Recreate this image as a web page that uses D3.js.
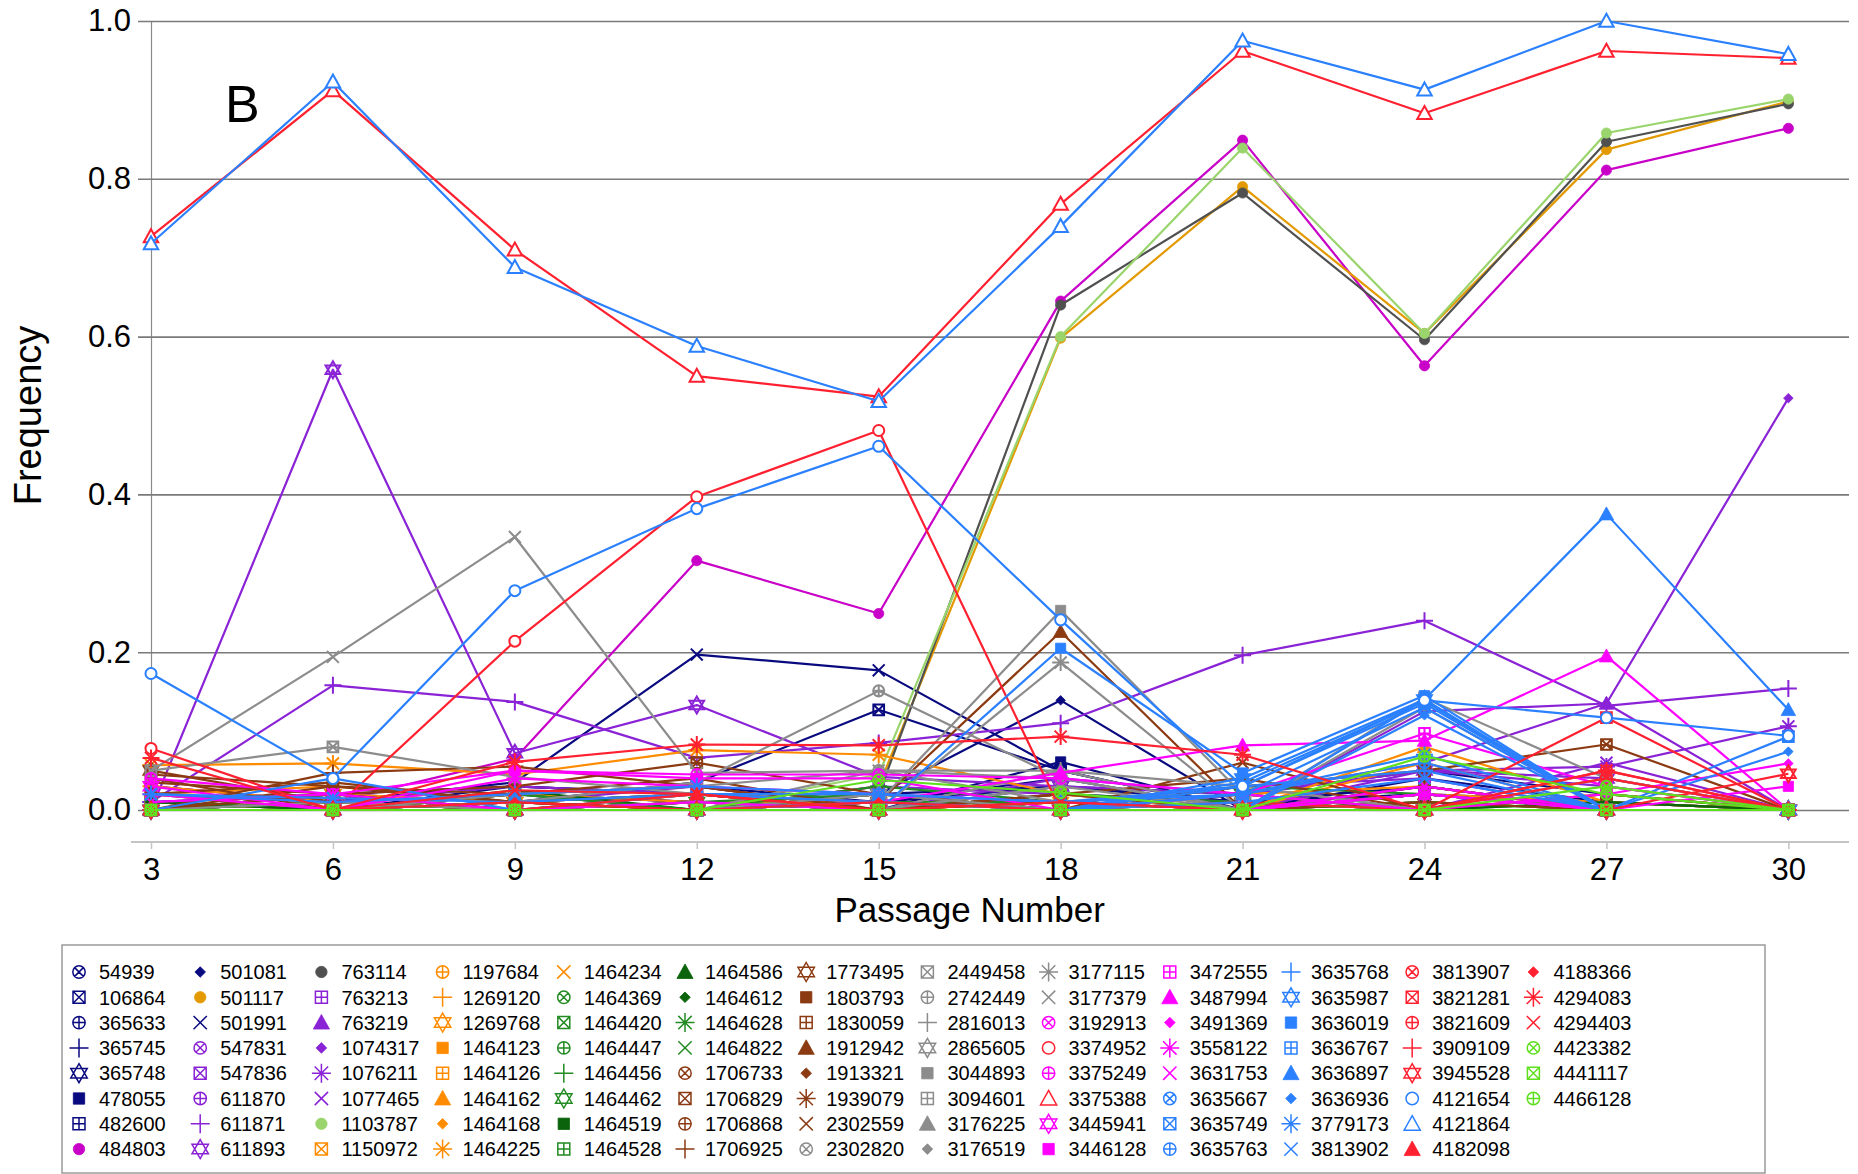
<!DOCTYPE html>
<html><head><meta charset="utf-8">
<script src="https://cdn.jsdelivr.net/npm/d3@7"></script>
<style>body{margin:0;background:#fff}svg{display:block}</style>
</head><body><svg id="c" width="1858" height="1174"></svg>
<script>
const passages = [3,6,9,12,15,18,21,24,27,30];
const yTicks = [0,0.2,0.4,0.6,0.8,1.0];
const xTitle = "Passage Number", yTitle = "Frequency", panelLabel = "B";

const seriesNames = [
"54939","106864","365633","365745","365748","478055","482600","484803",
"501081","501117","501991","547831","547836","611870","611871","611893",
"763114","763213","763219","1074317","1076211","1077465","1103787","1150972",
"1197684","1269120","1269768","1464123","1464126","1464162","1464168","1464225",
"1464234","1464369","1464420","1464447","1464456","1464462","1464519","1464528",
"1464586","1464612","1464628","1464822","1706733","1706829","1706868","1706925",
"1773495","1803793","1830059","1912942","1913321","1939079","2302559","2302820",
"2449458","2742449","2816013","2865605","3044893","3094601","3176225","3176519",
"3177115","3177379","3192913","3374952","3375249","3375388","3445941","3446128",
"3472555","3487994","3491369","3558122","3631753","3635667","3635749","3635763",
"3635768","3635987","3636019","3636767","3636897","3636936","3779173","3813902",
"3813907","3821281","3821609","3909109","3945528","4121654","4121864","4182098",
"4188366","4294083","4294403","4423382","4441117","4466128"];

const seriesColorKeys = [
"navy","navy","navy","navy","navy","navy","navy","mag2",
"navy","gold","navy","purple","purple","purple","purple","purple",
"dkgrey","purple","purple","purple","purple","purple","ltgreen","orange",
"orange","orange","orange","orange","orange","orange","orange","orange",
"orange","green","green","green","green","green","dkgreen","green",
"dkgreen","dkgreen","green","green","brown","brown","brown","brown",
"brown","brown","brown","brown","brown","brown","brown","grey",
"grey","grey","grey","grey","grey","grey","grey","grey",
"grey","grey","magenta","red","magenta","red","magenta","magenta",
"magenta","magenta","magenta","magenta","magenta","blue","blue","blue",
"blue","blue","blue","blue","blue","blue","blue","blue",
"red","red","red","red","red","blue","blue","red",
"red","red","red","bgreen","bgreen","bgreen"];

const seriesShapes = [
"cx","sx","cp","p","hex","sq","sp","dot",
"dia","dot","x","cx","sx","cp","p","hex",
"dot","sp","tri","dia","ast","x","dot","sx",
"cp","p","hex","sq","sp","tri","dia","ast",
"x","cx","sx","cp","p","hex","sq","sp",
"tri","dia","ast","x","cx","sx","cp","p",
"hex","sq","sp","tri","dia","ast","x","cx",
"sx","cp","p","hex","sq","sp","tri","dia",
"ast","x","cx","oc","cp","ot","hex","sq",
"sp","tri","dia","ast","x","cx","sx","cp",
"p","hex","sq","sp","tri","dia","ast","x",
"cx","sx","cp","p","hex","oc","ot","tri",
"dia","ast","x","cx","sx","cp"];

const seriesValues = [
[0.03,0.01,0.02,0.03,0.01,0.03,0.02,0.05,0.02,0.0],
[0.02,0.0,0.01,0.035,0.127,0.05,0.0,0.04,0.01,0.0],
[0.0,0.01,0.02,0.01,0.0,0.02,0.01,0.03,0.0,0.0],
[0.01,0.0,0.03,0.02,0.01,0.04,0.0,0.02,0.01,0.0],
[0.0,0.02,0.01,0.0,0.02,0.03,0.01,0.0,0.0,0.0],
[0.02,0.01,0.02,0.01,0.0,0.061,0.0,0.01,0.0,0.0],
[0.0,0.0,0.01,0.02,0.0,0.03,0.01,0.02,0.0,0.0],
[0.03,0.01,0.065,0.316,0.249,0.645,0.849,0.563,0.811,0.864],
[0.01,0.02,0.03,0.02,0.02,0.139,0.0,0.03,0.0,0.0],
[0.0,0.0,0.0,0.0,0.03,0.598,0.790,0.604,0.837,0.898],
[0.0,0.01,0.035,0.197,0.177,0.05,0.0,0.02,0.0,0.0],
[0.0,0.02,0.01,0.03,0.0,0.04,0.02,0.05,0.03,0.0],
[0.01,0.0,0.02,0.0,0.03,0.02,0.0,0.03,0.0,0.0],
[0.0,0.01,0.03,0.02,0.01,0.0,0.03,0.04,0.0,0.0],
[0.01,0.158,0.137,0.066,0.085,0.110,0.196,0.240,0.132,0.154],
[0.0,0.558,0.072,0.133,0.042,0.03,0.02,0.05,0.04,0.0],
[0.0,0.0,0.0,0.0,0.02,0.640,0.782,0.596,0.847,0.895],
[0.0,0.0,0.01,0.02,0.0,0.02,0.01,0.0,0.0,0.0],
[0.0,0.01,0.0,0.01,0.0,0.0,0.02,0.06,0.135,0.0],
[0.0,0.0,0.01,0.0,0.0,0.01,0.0,0.125,0.135,0.522],
[0.0,0.0,0.0,0.01,0.0,0.0,0.0,0.05,0.055,0.106],
[0.01,0.02,0.0,0.0,0.02,0.0,0.0,0.0,0.06,0.0],
[0.0,0.0,0.0,0.0,0.045,0.600,0.839,0.604,0.858,0.901],
[0.02,0.03,0.01,0.02,0.0,0.01,0.0,0.0,0.0,0.0],
[0.01,0.0,0.02,0.01,0.01,0.0,0.02,0.03,0.0,0.0],
[0.03,0.01,0.0,0.0,0.02,0.0,0.0,0.02,0.01,0.0],
[0.0,0.02,0.01,0.0,0.0,0.01,0.0,0.0,0.0,0.0],
[0.0,0.0,0.0,0.01,0.0,0.0,0.01,0.0,0.0,0.0],
[0.02,0.0,0.01,0.0,0.0,0.02,0.0,0.06,0.0,0.0],
[0.0,0.01,0.0,0.0,0.01,0.0,0.0,0.08,0.01,0.0],
[0.01,0.0,0.0,0.02,0.0,0.0,0.02,0.0,0.0,0.0],
[0.057,0.059,0.045,0.076,0.070,0.02,0.0,0.01,0.0,0.0],
[0.0,0.01,0.0,0.0,0.0,0.01,0.0,0.0,0.02,0.0],
[0.0,0.01,0.0,0.01,0.02,0.0,0.03,0.02,0.0,0.0],
[0.01,0.0,0.02,0.0,0.01,0.01,0.0,0.01,0.0,0.0],
[0.0,0.0,0.01,0.02,0.0,0.02,0.01,0.0,0.01,0.0],
[0.0,0.01,0.0,0.0,0.01,0.0,0.0,0.02,0.0,0.0],
[0.0,0.0,0.0,0.01,0.0,0.0,0.02,0.0,0.0,0.0],
[0.01,0.0,0.025,0.0,0.0,0.01,0.0,0.0,0.0,0.0],
[0.0,0.01,0.0,0.0,0.02,0.0,0.0,0.01,0.0,0.0],
[0.0,0.0,0.01,0.0,0.0,0.0,0.01,0.0,0.0,0.0],
[0.0,0.02,0.0,0.01,0.0,0.0,0.0,0.0,0.01,0.0],
[0.0,0.0,0.0,0.0,0.03,0.01,0.0,0.02,0.0,0.0],
[0.0,0.0,0.02,0.0,0.0,0.0,0.01,0.0,0.0,0.0],
[0.045,0.03,0.02,0.04,0.0,0.01,0.0,0.0,0.0,0.0],
[0.0,0.02,0.03,0.06,0.02,0.0,0.03,0.05,0.083,0.0],
[0.02,0.035,0.01,0.0,0.0,0.02,0.0,0.03,0.0,0.0],
[0.0,0.047,0.055,0.03,0.0,0.0,0.0,0.01,0.0,0.0],
[0.05,0.01,0.0,0.0,0.01,0.0,0.0,0.0,0.0,0.0],
[0.0,0.0,0.02,0.03,0.0,0.02,0.04,0.0,0.0,0.0],
[0.035,0.02,0.0,0.01,0.0,0.0,0.0,0.0,0.02,0.0],
[0.0,0.0,0.0,0.0,0.01,0.226,0.0,0.02,0.0,0.0],
[0.0,0.03,0.01,0.0,0.0,0.0,0.02,0.0,0.0,0.0],
[0.0,0.0,0.0,0.02,0.0,0.0,0.0,0.0,0.0,0.0],
[0.04,0.0,0.0,0.0,0.0,0.0,0.06,0.0,0.0,0.0],
[0.0,0.0,0.02,0.03,0.05,0.01,0.03,0.0,0.04,0.0],
[0.05,0.080,0.042,0.02,0.01,0.0,0.0,0.0,0.0,0.0],
[0.0,0.0,0.01,0.035,0.151,0.04,0.0,0.02,0.0,0.0],
[0.0,0.01,0.0,0.01,0.0,0.05,0.0,0.0,0.0,0.0],
[0.0,0.0,0.0,0.0,0.02,0.0,0.01,0.0,0.0,0.0],
[0.0,0.0,0.0,0.0,0.01,0.253,0.02,0.0,0.0,0.0],
[0.0,0.0,0.0,0.0,0.0,0.0,0.0,0.142,0.04,0.0],
[0.0,0.0,0.0,0.0,0.05,0.05,0.03,0.0,0.0,0.0],
[0.0,0.0,0.0,0.0,0.0,0.03,0.0,0.13,0.0,0.0],
[0.0,0.0,0.0,0.0,0.0,0.187,0.0,0.0,0.0,0.0],
[0.05,0.194,0.346,0.047,0.05,0.04,0.0,0.0,0.0,0.0],
[0.0,0.0,0.0,0.01,0.0,0.0,0.0,0.02,0.0,0.0],
[0.078,0.0,0.214,0.397,0.481,0.0,0.01,0.0,0.0,0.0],
[0.04,0.02,0.05,0.045,0.045,0.04,0.02,0.0,0.0,0.0],
[0.727,0.912,0.710,0.550,0.524,0.768,0.962,0.883,0.962,0.953],
[0.03,0.0,0.0,0.0,0.0,0.0,0.0,0.0,0.0,0.0],
[0.0,0.0,0.05,0.04,0.04,0.0,0.0,0.0,0.0,0.03],
[0.0,0.0,0.0,0.0,0.0,0.0,0.02,0.097,0.03,0.0],
[0.0,0.0,0.0,0.0,0.01,0.047,0.082,0.088,0.195,0.0],
[0.0,0.0,0.0,0.0,0.0,0.0,0.0,0.0,0.02,0.059],
[0.02,0.0,0.04,0.03,0.02,0.01,0.0,0.02,0.0,0.0],
[0.01,0.02,0.0,0.0,0.0,0.0,0.0,0.03,0.0,0.0],
[0.0,0.0,0.0,0.02,0.02,0.01,0.03,0.135,0.0,0.0],
[0.0,0.0,0.0,0.0,0.01,0.0,0.02,0.13,0.0,0.093],
[0.0,0.04,0.0,0.0,0.0,0.0,0.02,0.06,0.0,0.0],
[0.0,0.0,0.0,0.0,0.0,0.0,0.03,0.05,0.0,0.0],
[0.0,0.0,0.0,0.0,0.0,0.0,0.04,0.14,0.0,0.0],
[0.0,0.0,0.0,0.0,0.0,0.205,0.047,0.145,0.0,0.0],
[0.0,0.0,0.0,0.0,0.0,0.0,0.035,0.138,0.0,0.0],
[0.0,0.0,0.0,0.0,0.0,0.0,0.0,0.14,0.375,0.127],
[0.0,0.0,0.0,0.0,0.0,0.0,0.0,0.12,0.0,0.074],
[0.02,0.01,0.02,0.03,0.02,0.01,0.02,0.07,0.0,0.0],
[0.02,0.015,0.01,0.02,0.01,0.0,0.01,0.04,0.0,0.0],
[0.0,0.0,0.0,0.0,0.0,0.0,0.0,0.0,0.04,0.0],
[0.0,0.0,0.0,0.0,0.0,0.0,0.0,0.0,0.117,0.0],
[0.0,0.0,0.0,0.0,0.0,0.0,0.0,0.0,0.05,0.0],
[0.0,0.0,0.0,0.0,0.0,0.0,0.0,0.0,0.0,0.0],
[0.0,0.0,0.0,0.0,0.0,0.0,0.0,0.0,0.0,0.046],
[0.173,0.040,0.278,0.382,0.461,0.241,0.03,0.139,0.117,0.094],
[0.718,0.923,0.688,0.588,0.518,0.740,0.975,0.913,1.0,0.958],
[0.0,0.0,0.0,0.02,0.0,0.0,0.0,0.0,0.0,0.0],
[0.0,0.0,0.01,0.0,0.01,0.0,0.0,0.0,0.0,0.0],
[0.066,0.0,0.061,0.083,0.082,0.093,0.070,0.0,0.05,0.0],
[0.0,0.0,0.025,0.02,0.0,0.01,0.0,0.0,0.0,0.0],
[0.0,0.0,0.0,0.0,0.038,0.022,0.0,0.0,0.03,0.0],
[0.0,0.0,0.0,0.0,0.0,0.0,0.0,0.0,0.0,0.0],
[0.0,0.0,0.0,0.0,0.0,0.0,0.0,0.068,0.02,0.0]];

const palette = {
  navy:"#0a0a80", mag2:"#c800c8", gold:"#e39a00", purple:"#8a22d6", dkgrey:"#505050",
  ltgreen:"#9ad46c", orange:"#ff8c00", green:"#228b22", dkgreen:"#0b640b", brown:"#8b3a12",
  grey:"#8c8c8c", magenta:"#ff00ff", red:"#ff2030", blue:"#2a80ff", bgreen:"#5fe01f"
};

const svg = d3.select("#c");
const FONT = "'Liberation Sans', Arial, sans-serif";
const x = d3.scaleLinear().domain([3,31]).range([151,1849]);
const y = d3.scaleLinear().domain([0,1]).range([810,21]);

// gridlines + y axis
const yAxis = d3.axisLeft(y).tickValues(yTicks).tickFormat(d3.format(".1f"))
  .tickSizeInner(-(x.range()[1]-x.range()[0])).tickSizeOuter(0).tickPadding(20);
const gy = svg.append("g").attr("transform",`translate(${x(3)},0)`).call(yAxis);
gy.select(".domain").attr("stroke","#8a8a8a").attr("stroke-width",1.2);
gy.selectAll(".tick line").attr("x1",-13).attr("stroke","#7a7a7a").attr("stroke-width",1.6);
gy.selectAll(".tick text").attr("font-family",FONT).attr("font-size",31).attr("fill","#000");

// x axis
const xAxis = d3.axisBottom(x).tickValues(passages).tickSizeInner(7).tickSizeOuter(0).tickPadding(9);
const gx = svg.append("g").attr("transform","translate(0,842)").call(xAxis);
gx.select(".domain").remove();
gx.insert("line",":first-child").attr("x1",x(3)-20).attr("x2",x.range()[1]).attr("y1",0).attr("y2",0)
  .attr("stroke","#c4c4c4").attr("stroke-width",2);
gx.selectAll(".tick line").attr("stroke","#c4c4c4").attr("stroke-width",1.5);
gx.selectAll(".tick text").attr("font-family",FONT).attr("font-size",31).attr("fill","#000");

svg.append("text").attr("x",x(16.5)).attr("y",922).attr("text-anchor","middle")
  .attr("font-family",FONT).attr("font-size",35).text(xTitle);
svg.append("text").attr("transform",`translate(41,${y(0.5)}) rotate(-90)`).attr("text-anchor","middle")
  .attr("font-family",FONT).attr("font-size",38).text(yTitle);
svg.append("text").attr("x",225).attr("y",122).attr("font-family",FONT).attr("font-size",52).text(panelLabel);

// symbols
function circ(r){return `M${-r},0A${r},${r} 0 1,0 ${r},0A${r},${r} 0 1,0 ${-r},0Z`;}
const filled = new Set(["sq","dot","tri","dia"]);
function shapePath(s,k){
  const r=6.5*k, a=r*0.707, q=6.3*k, P=10*k, R=10*k, t=8.5*k, d=5.6*k, A=10*k, X=7*k, b=A*0.707;
  switch(s){
    case "cx": return circ(r)+`M${-a},${-a}L${a},${a}M${-a},${a}L${a},${-a}`;
    case "sx": return `M${-q},${-q}H${q}V${q}H${-q}ZM${-q},${-q}L${q},${q}M${-q},${q}L${q},${-q}`;
    case "cp": return circ(r)+`M${-r},0H${r}M0,${-r}V${r}`;
    case "p": return `M${-P},0H${P}M0,${-P}V${P}`;
    case "hex": {const h=R*0.866; return `M0,${-R}L${h},${R/2}L${-h},${R/2}ZM0,${R}L${h},${-R/2}L${-h},${-R/2}Z`;}
    case "sq": {const u=q*0.95; return `M${-u},${-u}H${u}V${u}H${-u}Z`;}
    case "sp": return `M${-q},${-q}H${q}V${q}H${-q}ZM${-q},0H${q}M0,${-q}V${q}`;
    case "dot": return circ(6*k);
    case "tri": return `M0,${-t}L${t},${t*0.8}L${-t},${t*0.8}Z`;
    case "dia": return `M0,${-d}L${d},0L0,${d}L${-d},0Z`;
    case "ast": return `M${-A},0H${A}M0,${-A}V${A}M${-b},${-b}L${b},${b}M${-b},${b}L${b},${-b}`;
    case "x": return `M${-X},${-X}L${X},${X}M${-X},${X}L${X},${-X}`;
    case "oc": return circ(r);
    case "ot": return `M0,${-t}L${t},${t*0.8}L${-t},${t*0.8}Z`;
  }
}
function drawSymbol(g,s,color,k,sw,bg){
  const isF = filled.has(s);
  g.append("path").attr("d",shapePath(s,k))
    .attr("fill", isF ? color : ((s==="oc"||s==="ot") ? bg : "none"))
    .attr("stroke", color).attr("stroke-width", isF ? 0.8 : sw)
    .attr("stroke-linejoin","miter");
}

const line = d3.line().x((d,i)=>x(passages[i])).y(d=>y(d));
const plot = svg.append("g");
seriesValues.forEach((vals,si)=>{
  const col = palette[seriesColorKeys[si]];
  const g = plot.append("g");
  g.append("path").attr("d",line(vals)).attr("fill","none").attr("stroke",col)
    .attr("stroke-width",2.2).attr("stroke-linejoin","round");
  vals.forEach((v,i)=>{
    const mg = g.append("g").attr("transform",`translate(${x(passages[i])},${y(v)})`);
    drawSymbol(mg, seriesShapes[si], col, 0.85, 2, "#fff");
  });
});

// legend
const lg = svg.append("g");
lg.append("rect").attr("x",62).attr("y",945).attr("width",1703).attr("height",228)
  .attr("fill","#fff").attr("stroke","#9a9a9a").attr("stroke-width",1.5);
seriesNames.forEach((name,si)=>{
  const c = Math.floor(si/8), r = si%8;
  const cx = 79 + c*121.2, cy = 972 + r*25.3;
  const col = palette[seriesColorKeys[si]];
  const g = lg.append("g").attr("transform",`translate(${cx},${cy})`);
  drawSymbol(g, seriesShapes[si], col, 0.95, 1.5, "#fff");
  lg.append("text").attr("x",cx+20).attr("y",cy).attr("dy","0.36em")
    .attr("font-family",FONT).attr("font-size",20).attr("fill","#000").text(name);
});
</script></body></html>
